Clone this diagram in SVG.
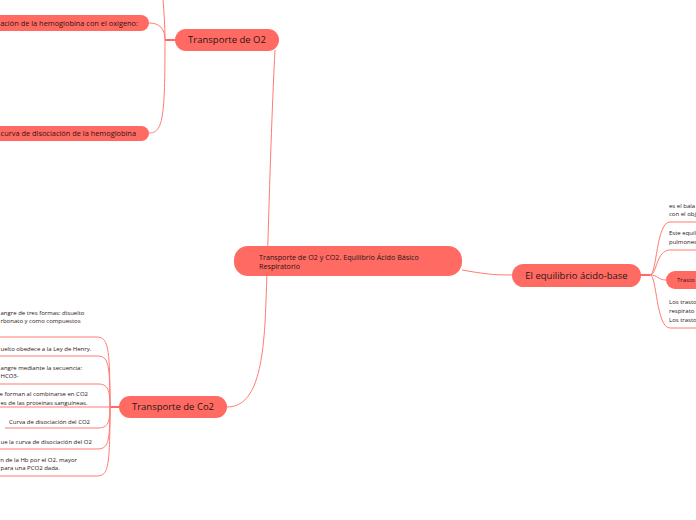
<svg xmlns="http://www.w3.org/2000/svg" width="696" height="520" viewBox="0 0 696 520">
<style>
.bg{fill:#ffffff}
.c{fill:none;stroke:#ff7b73;stroke-width:1}
.ct{fill:none;stroke:#ff6b63;stroke-width:2}
.pill{fill:#ff6b63}
.t{font-family:"Open Sans","Noto Sans",sans-serif;fill:#2b1414}
.big{font-size:9.5px}
.mid{font-size:7.2px}
.pt{font-size:7.4px}
.sm{font-size:6px}
.e{text-anchor:end}
.m{text-anchor:middle}
</style>
<rect class="bg" x="0" y="0" width="696" height="520"/>
<g id="connectors">
  <path class="c" d="M275,50 C270,150 268,250 266,300 C264,370 255,407 227,407"/>
  <path class="c" d="M462,270 C485,274 492,275 512,275"/>
  <path class="ct" d="M175,40 H165"/>
  <path class="c" d="M165,40 C165,25 164,12 163,0"/>
  <path class="c" d="M165,40 C165,29 160,23 149,23"/>
  <path class="c" d="M165,40 C165,118 163,133 149,133"/>
  <path class="ct" d="M119,407 H110"/>
  <path class="c" d="M110,407 C110,345 108,337 96,337 H0"/>
  <path class="c" d="M110,407 C110,362 108,356 97,356 H0"/>
  <path class="c" d="M110,407 C110,390 108,384 98,384 H0"/>
  <path class="c" d="M110,407 H0"/>
  <path class="c" d="M110,407 C110,422 108,428 98,428 H5"/>
  <path class="c" d="M110,407 C110,443 108,449 97,449 H0"/>
  <path class="c" d="M110,407 C110,470 108,476 96,476 H0"/>
  <path class="ct" d="M640,275 H650"/>
  <path class="c" d="M650,275 C657,275 656,222 670,222 H696"/>
  <path class="c" d="M650,275 C657,275 656,250 670,250 H696"/>
  <path class="c" d="M650,275 C658,275 658,280 666,280"/>
  <path class="c" d="M650,275 C657,275 656,328 670,328 H696"/>
</g>
<g id="central">
  <rect class="pill" x="234" y="246" width="228" height="30" rx="14"/>
  <text class="t mid" x="259" y="259.5">Transporte de O2 y CO2. Equilibrio Ácido Básico</text>
  <text class="t mid" x="259" y="268.5">Respiratorio</text>
</g>
<g id="transporte-o2">
  <rect class="pill" x="175" y="29" width="104" height="22" rx="11"/>
  <text class="t big m" x="227" y="43.3">Transporte de O2</text>
</g>
<g id="o2-saturacion">
  <rect class="pill" x="-20" y="15" width="169" height="16" rx="8"/>
  <text class="t pt e" x="138" y="25.6">ación de la hemoglobina con el oxígeno:</text>
</g>
<g id="o2-curva">
  <rect class="pill" x="-20" y="126" width="169" height="15" rx="7.5"/>
  <text class="t pt e" x="136" y="136.1">curva de disociación de la hemoglobina</text>
</g>
<g id="transporte-co2">
  <rect class="pill" x="119" y="396" width="108" height="22" rx="11"/>
  <text class="t big m" x="173" y="410.3">Transporte de Co2</text>
</g>
<g id="co2-formas">
  <text class="t sm" x="0.5" y="315">angre de tres formas: disuelto</text>
  <text class="t sm" x="0.5" y="323">rbonato y como compuestos</text>
</g>
<g id="co2-henry">
  <text class="t sm" x="0.5" y="351">uelto obedece a la Ley de Henry.</text>
</g>
<g id="co2-secuencia">
  <text class="t sm e" x="82" y="370">angre mediante la secuencia:</text>
  <text class="t sm" x="0.5" y="378">HCO3-</text>
</g>
<g id="co2-compuestos">
  <text class="t sm e" x="88" y="396">e forman al combinarse en CO2</text>
  <text class="t sm" x="0.5" y="405">es de las proteínas sanguíneas.</text>
</g>
<g id="co2-curva">
  <text class="t sm" x="9" y="424">Curva de disociación del CO2</text>
</g>
<g id="co2-lineal">
  <text class="t sm" x="0.5" y="444">ue la curva de disociación del O2</text>
</g>
<g id="co2-haldane">
  <text class="t sm e" x="77" y="462">n de la Hb por el O2, mayor</text>
  <text class="t sm" x="0.5" y="470">para una PCO2 dada.</text>
</g>
<g id="equilibrio">
  <rect class="pill" x="512" y="264" width="129" height="23" rx="11.5"/>
  <text class="t big m" x="576.5" y="278.8">El equilibrio ácido-base</text>
</g>
<g id="eq-definicion">
  <text class="t sm" x="669" y="208">es el bala</text>
  <text class="t sm" x="669" y="216">con el obj</text>
</g>
<g id="eq-pulmones">
  <text class="t sm" x="669" y="235">Este equil</text>
  <text class="t sm" x="669" y="244">pulmones</text>
</g>
<g id="eq-trastornos">
  <rect class="pill" x="666" y="271" width="60" height="18" rx="9"/>
  <text class="t sm" x="677" y="282.2">Trasto</text>
</g>
<g id="eq-trastornos-texto">
  <text class="t sm" x="669" y="304">Los trasto</text>
  <text class="t sm" x="669" y="313">respirato</text>
  <text class="t sm" x="669" y="322">Los trasto</text>
</g>
</svg>
